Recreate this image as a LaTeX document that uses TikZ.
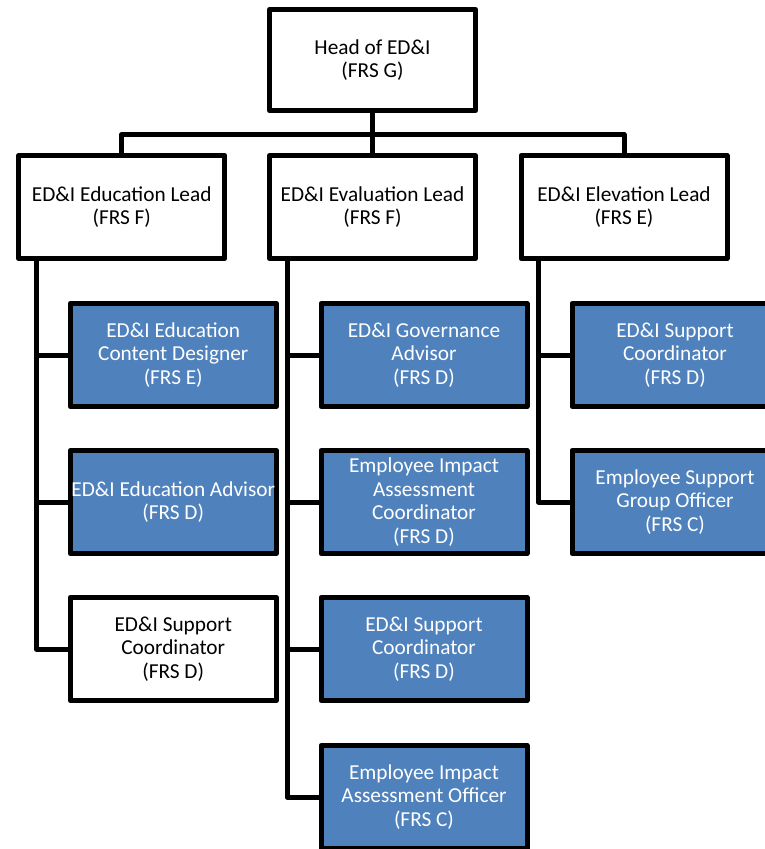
\documentclass[tikz,border=0pt]{standalone}
\usepackage{fontspec}
\setmainfont{Carlito}
\definecolor{roleblue}{RGB}{79,129,189}
\begin{document}
\begin{tikzpicture}[x=1pt,y=-1pt,
  post/.style={draw=black, line width=5pt, line join=round, fill=white,
    minimum width=206pt, minimum height=103pt, inner sep=1pt, align=center,
    font=\fontsize{21.3}{23.5}\selectfont},
  bluepost/.style={post, fill=roleblue, text=white},
  link/.style={draw=black, line width=5pt, line join=round}]
\useasboundingbox (0,0) rectangle (765,849);

% top level
\node[post, minimum height=101pt] (head) at (372.5,60) {Head of ED\&I\\(FRS G)};

% leads
\node[post] (edu)  at (121.75,207) {ED\&I Education Lead\\(FRS F)};
\node[post] (eval) at (372.5,207)  {ED\&I Evaluation Lead\\(FRS F)};
\node[post] (elev) at (624,207)    {ED\&I Elevation Lead\\(FRS E)};

% education team
\node[bluepost] (edu1) at (173.25,355) {ED\&I Education\\Content Designer\\(FRS E)};
\node[bluepost] (edu2) at (173.25,502) {ED\&I Education Advisor\\(FRS D)};
\node[post]     (edu3) at (173.25,649) {ED\&I Support\\Coordinator\\(FRS D)};

% evaluation team
\node[bluepost] (eval1) at (424,355) {ED\&I Governance\\Advisor\\(FRS D)};
\node[bluepost] (eval2) at (424,502) {Employee Impact\\Assessment\\Coordinator\\(FRS D)};
\node[bluepost] (eval3) at (424,649) {ED\&I Support\\Coordinator\\(FRS D)};
\node[bluepost] (eval4) at (424,797) {Employee Impact\\Assessment Officer\\(FRS C)};

% elevation team
\node[bluepost] (elev1) at (675,355) {ED\&I Support\\Coordinator\\(FRS D)};
\node[bluepost] (elev2) at (675,502) {Employee Support\\Group Officer\\(FRS C)};

% head to leads
\coordinate (bar) at (372.5,134.5);
\path[link] (edu.north) |- (bar) -| (elev.north);
\path[link] (head.south) -- (eval.north);

% trunks from each lead
\coordinate (eduT)  at ([xshift=20pt]edu.south west);
\coordinate (evalT) at ([xshift=20pt]eval.south west);
\coordinate (elevT) at ([xshift=20pt]elev.south west);

\foreach \c in {edu1,edu2,edu3} \path[link] (eduT) |- (\c.west);
\foreach \c in {eval1,eval2,eval3,eval4} \path[link] (evalT) |- (\c.west);
\foreach \c in {elev1,elev2} \path[link] (elevT) |- (\c.west);
\end{tikzpicture}
\end{document}
